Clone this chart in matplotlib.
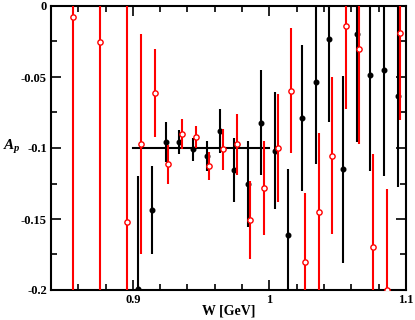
import numpy as np
import matplotlib.pyplot as plt
from matplotlib.ticker import MultipleLocator, FixedLocator

# black points (filled)
w_black = [0.904, 0.914, 0.924, 0.934, 0.944, 0.954, 0.964, 0.974, 0.984, 0.994,
           1.004, 1.014, 1.024, 1.034, 1.044, 1.054, 1.064, 1.074, 1.084, 1.094]
a_black = [-0.1995, -0.1437, -0.0958, -0.0960, -0.1009, -0.1056, -0.0878, -0.1157, -0.1254, -0.0822,
           -0.1019, -0.1615, -0.0791, -0.0533, -0.0230, -0.1150, -0.0195, -0.0484, -0.0449, -0.0632]
e_black = [0.080, 0.031, 0.014, 0.0085, 0.008, 0.0105, 0.0155, 0.0225, 0.030, 0.037,
           0.041, 0.0465, 0.0513, 0.058, 0.0585, 0.066, 0.076, 0.068, 0.075, 0.064]

# red points (open)
w_red = [0.856, 0.876, 0.896, 0.906, 0.916, 0.926, 0.936, 0.946, 0.956, 0.966, 0.976, 0.986,
         0.996, 1.006, 1.016, 1.026, 1.036, 1.046, 1.056, 1.066, 1.076, 1.086, 1.096]
a_red = [-0.0075, -0.0256, -0.1519, -0.0972, -0.0613, -0.1115, -0.0901, -0.0925, -0.1127, -0.1009,
         -0.0974, -0.1505, -0.1284, -0.0998, -0.0596, -0.1800, -0.1453, -0.1054, -0.0141, -0.0305,
         -0.1700, -0.2000, -0.0188]
e_red = [0.30, 0.30, 0.30, 0.0775, 0.031, 0.0135, 0.0105, 0.0077, 0.010, 0.0145, 0.0215, 0.0275,
         0.033, 0.038, 0.0438, 0.0486, 0.056, 0.0553, 0.0585, 0.0667, 0.0655, 0.071, 0.0613]

plt.rcParams['font.family'] = ['Liberation Serif', 'DejaVu Serif']
plt.rcParams['font.weight'] = 'bold'
plt.rcParams['mathtext.fontset'] = 'custom'
plt.rcParams['mathtext.it'] = 'Liberation Serif:italic:bold'
plt.rcParams['mathtext.rm'] = 'Liberation Serif:bold'

fig = plt.figure(figsize=(4.15, 3.2), dpi=100)
ax = fig.add_axes([0.1229, 0.09375, 0.978 - 0.1229, 0.98125 - 0.09375])

ax.plot([0.9, 1.0], [-0.1, -0.1], color='black', lw=1.5, zorder=2)

ax.errorbar(w_black, a_black, yerr=e_black, fmt='o', color='black', ms=3.3,
            elinewidth=1.5, capsize=0, zorder=3)
ax.errorbar(w_red, a_red, yerr=e_red, fmt='o', color='red', mfc='white', mec='red',
            ms=3.8, mew=1.0, elinewidth=1.5, capsize=0, zorder=4)

ax.set_xlim(0.84, 1.1)
ax.set_ylim(-0.2, 0)

ax.xaxis.set_major_locator(FixedLocator([0.9, 1.0, 1.1]))
ax.xaxis.set_minor_locator(MultipleLocator(0.02))
ax.yaxis.set_major_locator(MultipleLocator(0.05))
ax.yaxis.set_minor_locator(MultipleLocator(0.025))
ax.set_xticklabels(['0.9', '1', '1.1'])
ax.set_yticks([0, -0.05, -0.1, -0.15, -0.2])
ax.set_yticklabels(['0', '-0.05', '-0.1', '-0.15', '-0.2'])

ax.tick_params(which='both', direction='in', top=True, right=True, width=1.2, labelsize=9)
ax.tick_params(which='major', length=7, pad=3)
ax.tick_params(which='minor', length=4)
for s in ax.spines.values():
    s.set_linewidth(1.5)

# axis titles placed in figure coordinates
fig.text(228.5 / 415, 1 - 311 / 320, 'W [GeV]', fontsize=10, fontweight='bold',
         ha='center', va='center')
fig.text(3 / 415, 1 - 147 / 320, r'$A_p$', fontsize=11, ha='left', va='center')

plt.savefig('out.png', dpi=100)
